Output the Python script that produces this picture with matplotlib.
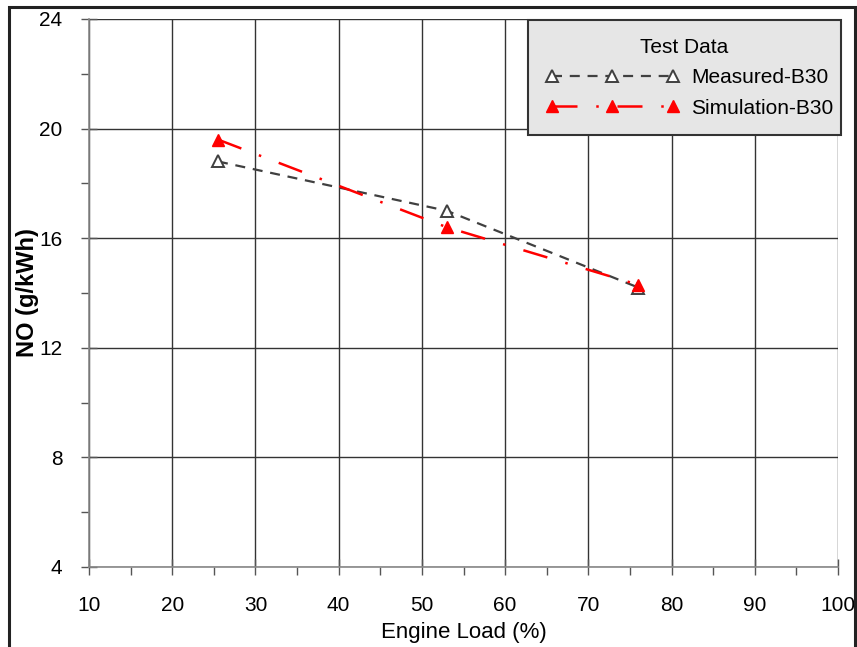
#!/bin/python3
# NO emissions vs engine load, measured vs simulated (B30 blend)

import matplotlib
matplotlib.use("Agg")
import matplotlib.pyplot as plt
from matplotlib.patches import Rectangle
from matplotlib.ticker import MultipleLocator

# data
load = [25.5, 53.0, 76.0]
no_measured = [18.8, 17.0, 14.2]
no_simulated = [19.6, 16.4, 14.3]

x_ticks = [10, 20, 30, 40, 50, 60, 70, 80, 90, 100]
y_ticks = [4, 8, 12, 16, 20, 24]

plt.rcParams['font.family'] = ['Liberation Sans', 'DejaVu Sans']

fig = plt.figure(figsize=(8.57, 6.47), dpi=100)
ax = fig.add_axes([89 / 857, 1 - 567 / 647, 749 / 857, 548 / 647])

# outer frame round the whole picture
fig.patches.append(Rectangle((8.5 / 857, -0.05), 846.5 / 857, 1.05 - 6.5 / 647,
                             transform=fig.transFigure, fill=False,
                             edgecolor='#222222', linewidth=2.2, zorder=0))

ax.plot(load, no_measured, color='#404040', lw=1.6, dashes=(4.5, 3.5),
        marker='^', markersize=9, markerfacecolor='white',
        markeredgecolor='#404040', markeredgewidth=1.4,
        label='Measured-B30', zorder=3)
ax.plot(load, no_simulated, color='red', lw=1.8, dashes=(10, 7.5, 1, 7.5),
        marker='^', markersize=9, markerfacecolor='red',
        markeredgecolor='red', label='Simulation-B30', zorder=4)

ax.set_xlim(10, 100)
ax.set_ylim(4, 24)
ax.set_xticks(x_ticks)
ax.set_yticks(y_ticks)
ax.xaxis.set_minor_locator(MultipleLocator(5))
ax.yaxis.set_minor_locator(MultipleLocator(2))

ax.grid(True, which='major', color='#333333', linewidth=1.0)
ax.set_axisbelow(True)
for side in ['top', 'right']:
    ax.spines[side].set_visible(False)
for side in ['left', 'bottom']:
    ax.spines[side].set_color('#888888')
    ax.spines[side].set_linewidth(1.2)

ax.tick_params(which='major', direction='inout', length=12, width=1.0,
               color='#555555', labelsize=15)
ax.tick_params(axis='x', which='major', pad=15)
ax.tick_params(axis='y', which='major', pad=13)
ax.tick_params(which='minor', direction='out', length=6, width=1.0,
               color='#555555')

ax.set_xlabel('Engine Load (%)', fontsize=16, labelpad=5)
ax.set_ylabel('NO (g/kWh)', fontsize=17, fontweight='bold', labelpad=0)

leg = ax.legend(title='Test Data', loc='upper right',
                bbox_to_anchor=(0.586, 0.797, 0.418, 0.201), mode='expand',
                numpoints=3, handlelength=6.4, handletextpad=0.6,
                fontsize=15, title_fontsize=15,
                fancybox=False, shadow=False, framealpha=1,
                borderaxespad=0, borderpad=0.85, labelspacing=0.55)
leg.get_frame().set_facecolor('#e6e6e6')
leg.get_frame().set_edgecolor('#333333')
leg.get_frame().set_linewidth(1.5)

fig.savefig('out.png', dpi=100)
